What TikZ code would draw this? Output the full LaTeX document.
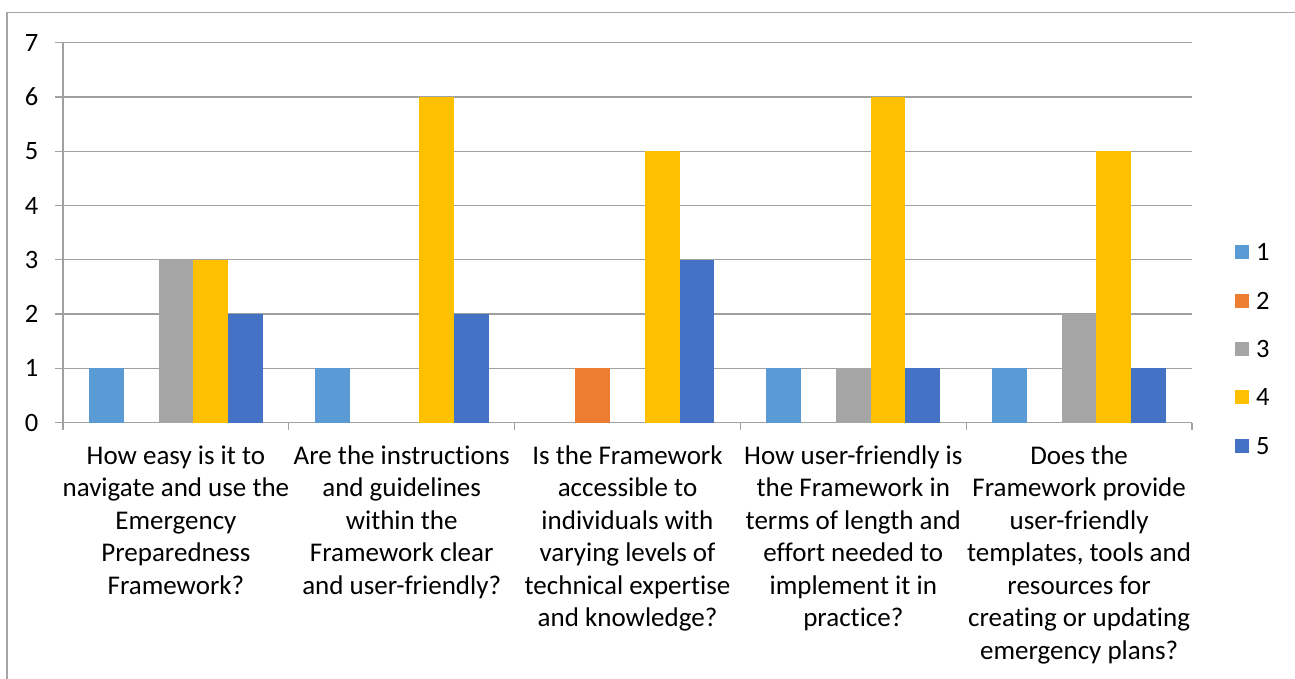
\documentclass[tikz,border=0pt]{standalone}
\usepackage{fontspec}
\setmainfont{Carlito}[Ligatures=NoCommon]
\definecolor{s1}{HTML}{5B9BD5}
\definecolor{s2}{HTML}{ED7D31}
\definecolor{s3}{HTML}{A5A5A5}
\definecolor{s4}{HTML}{FFC000}
\definecolor{s5}{HTML}{4472C4}
\definecolor{gridc}{HTML}{A0A0A0}
\definecolor{framec}{HTML}{A6A6A6}
\begin{document}
\begin{tikzpicture}[x=1pt,y=-1pt,
  gridline/.style={draw=gridc,line width=1.3pt},
  frameline/.style={draw=framec,line width=1.3pt},
  ticklabel/.style={font=\fontsize{26.5}{30}\selectfont,inner sep=0pt,anchor=east},
  catlabel/.style={font=\fontsize{27}{32.5}\selectfont,inner sep=0pt,align=center,anchor=north},
  legtext/.style={font=\fontsize{26.5}{30}\selectfont,inner sep=0pt,anchor=west},
  legbox/.style={minimum size=14pt,inner sep=0pt}]
\useasboundingbox (0,0) rectangle (1295,679);
\fill[white] (0,0) rectangle (1295,679);
% outer frame (top and left only visible)
\draw[frameline] (7,679) -- (7,12.5) -- (1295,12.5);
% gridlines and y ticks
\foreach \v in {0,...,7}{
  \draw[gridline] (55,{422.7-54.29*\v}) -- (1192,{422.7-54.29*\v});
  \node[ticklabel] (yl\v) at (38.5,{422.7-54.29*\v}) {\v};
}
% y axis
\draw[gridline] (63,{422.7-54.29*7}) -- (63,422.7);
% category ticks
\foreach \k in {0,...,5}{
  \draw[gridline] ({63+225.8*\k},422.7) -- ({63+225.8*\k},430);
}
% bars
\foreach \c/\va/\vb/\vc/\vd/\ve in {0/1/0/3/3/2,1/1/0/0/6/2,2/0/1/0/5/3,3/1/0/1/6/1,4/1/0/2/5/1}{
  \foreach \v [count=\i] in {\va,\vb,\vc,\vd,\ve}{
    \ifnum\v>0
      \fill[s\i] ({63+225.8*\c+26.05+34.74*(\i-1)},422.7) rectangle ({63+225.8*\c+26.05+34.74*\i},{422.7-54.29*\v});
    \fi
  }
}
% category labels
\node[catlabel] (c1) at ({63+225.8*0.5},441.5) {\strut How easy is it to\\navigate and use the\\Emergency\\Preparedness\\Framework?};
\node[catlabel] (c2) at ({63+225.8*1.5},441.5) {\strut Are the instructions\\and guidelines\\within the\\Framework clear\\and user-friendly?};
\node[catlabel] (c3) at ({63+225.8*2.5},441.5) {\strut Is the Framework\\accessible to\\individuals with\\varying levels of\\technical expertise\\and knowledge?};
\node[catlabel] (c4) at ({63+225.8*3.5},441.5) {\strut How user-friendly is\\the Framework in\\terms of length and\\effort needed to\\implement it in\\practice?};
\node[catlabel] (c5) at ({63+225.8*4.5},441.5) {\strut Does the\\Framework provide\\user-friendly\\templates, tools and\\resources for\\creating or updating\\emergency plans?};
% legend
\foreach \i/\y in {1/252.3,2/300.5,3/349,4/397.3,5/445.7}{
  \node[legbox,fill=s\i] (lb\i) at (1241.5,\y) {};
  \node[legtext] (lt\i) at (1256,\y) {\i};
}
\end{tikzpicture}
\end{document}
